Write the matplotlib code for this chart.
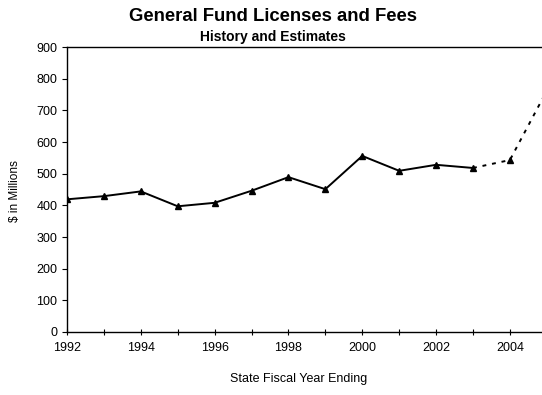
import matplotlib.pyplot as plt
from matplotlib.ticker import MultipleLocator

years_actual = [1992, 1993, 1994, 1995, 1996, 1997, 1998, 1999, 2000, 2001, 2002, 2003]
values_actual = [419, 429, 444, 397, 408, 446, 489, 451, 556, 509, 528, 518]
years_est = [2003, 2004, 2005]
values_est = [518, 543, 762]

FONT = "Liberation Sans"

fig = plt.figure(figsize=(5.42, 3.95), dpi=100)
ax = fig.add_axes([0.1236, 0.1595, 0.8764, 0.7215])

ax.plot(years_actual, values_actual, color="black", lw=1.4, marker="^", ms=5)
ax.plot(years_est, values_est, color="black", lw=1.4, ls=(0, (2, 3)))
ax.plot(years_est[1:2], values_est[1:2], color="black", marker="^", ms=5, ls="none")

ax.set_xlim(1992, 2004.87)
ax.set_ylim(0, 900)
ax.xaxis.set_major_locator(MultipleLocator(2))
ax.xaxis.set_minor_locator(MultipleLocator(1))
ax.yaxis.set_major_locator(MultipleLocator(100))
ax.tick_params(axis="x", which="both", direction="inout", length=5, width=0.8, pad=5, labelsize=9)
ax.tick_params(axis="y", direction="out", length=3.5, width=0.8, pad=3.5, labelsize=9)
ax.spines["right"].set_visible(False)
for s in ["left", "bottom", "top"]:
    ax.spines[s].set_linewidth(1.0)
for lbl in ax.get_xticklabels() + ax.get_yticklabels():
    lbl.set_family(FONT)

fig.text(15 / 542, 1 - 191 / 395, "$ in Millions", rotation=90, ha="center", va="center",
         fontsize=8.5, family=FONT)
fig.text(299 / 542, 1 - 379 / 395, "State Fiscal Year Ending", ha="center", va="center",
         fontsize=9, family=FONT)

fig.text(0.504, 0.957, "General Fund Licenses and Fees", ha="center", va="center",
         fontsize=13.3, fontweight="bold", family=FONT)
fig.text(0.504, 0.906, "History and Estimates", ha="center", va="center",
         fontsize=10, fontweight="bold", family=FONT)

fig.savefig("out.png", dpi=100)
